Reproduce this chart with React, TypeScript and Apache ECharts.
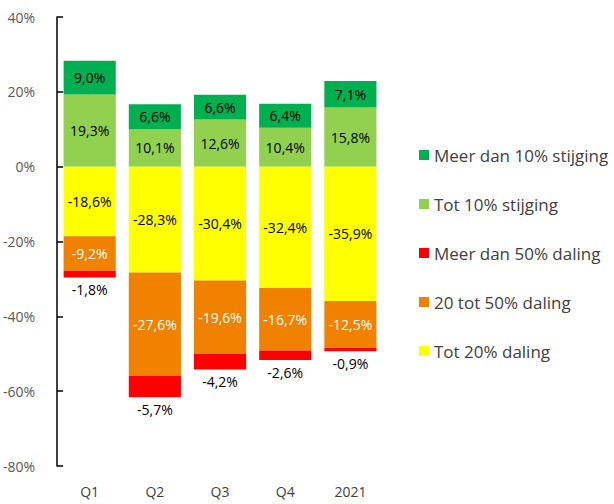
import React, { useEffect, useRef } from "react";
import * as echarts from "echarts";

const categories = ["Q1", "Q2", "Q3", "Q4", "2021"];
const meerDan10Stijging = [9.0, 6.6, 6.6, 6.4, 7.1];
const tot10Stijging = [19.3, 10.1, 12.6, 10.4, 15.8];
const tot20Daling = [-18.6, -28.3, -30.4, -32.4, -35.9];
const tot50Daling = [-9.2, -27.6, -19.6, -16.7, -12.5];
const meerDan50Daling = [-1.8, -5.7, -4.2, -2.6, -0.9];
const legendOrder = [
  "Meer dan 10% stijging",
  "Tot 10% stijging",
  "Meer dan 50% daling",
  "20 tot 50% daling",
  "Tot 20% daling",
];

const FONT = "'Open Sans', 'Noto Sans', sans-serif";
const fmt = (v: number) => v.toFixed(1).replace(".", ",") + "%";

export default function App() {
  const ref = useRef<HTMLDivElement>(null);
  useEffect(() => {
    if (!ref.current) return;
    const chart = echarts.init(ref.current, undefined, { renderer: "svg" });
    const lbl = (color: string, position: any = "inside") => ({
      show: true,
      position,
      color,
      fontSize: 14,
      fontFamily: FONT,
      formatter: (p: any) => fmt(p.value),
    });
    const mk = (name: string, data: number[], color: string, label: any) => ({
      name,
      type: "bar",
      stack: "a",
      data,
      barWidth: "80%",
      itemStyle: { color },
      label,
    });
    chart.setOption({
      animation: false,
      textStyle: { fontFamily: FONT },
      grid: { left: 55, top: 17, bottom: 38, width: 328 },
      legend: {
        orient: "vertical",
        left: 414,
        top: 141,
        itemWidth: 10,
        itemHeight: 10,
        itemGap: 31,
        icon: "rect",
        data: legendOrder,
        textStyle: { fontSize: 17, lineHeight: 18, color: "#404040", fontFamily: FONT },
      },
      xAxis: {
        type: "category",
        data: categories,
        axisLine: { show: false },
        axisTick: { show: false },
        axisLabel: { color: "#404040", fontSize: 14, margin: 18, fontFamily: FONT },
      },
      yAxis: {
        type: "value",
        min: -80,
        max: 40,
        interval: 20,
        splitLine: { show: false },
        axisLine: { show: true, lineStyle: { color: "#000", width: 1.5 } },
        axisTick: { show: true, inside: true, length: 6, lineStyle: { color: "#000", width: 1.5 } },
        axisLabel: {
          color: "#595959",
          fontSize: 14,
          margin: 22,
          fontFamily: FONT,
          formatter: (v: number) => v + "%",
        },
      },
      series: [
        mk("Tot 10% stijging", tot10Stijging, "#92D050", lbl("#000")),
        mk("Meer dan 10% stijging", meerDan10Stijging, "#00B050", lbl("#000")),
        mk("Tot 20% daling", tot20Daling, "#FFFF00", lbl("#000")),
        mk("20 tot 50% daling", tot50Daling, "#F08200", lbl("#fff")),
        mk("Meer dan 50% daling", meerDan50Daling, "#FF0000", lbl("#000", "bottom")),
      ],
    });
    return () => chart.dispose();
  }, []);
  return (
    <div
      ref={ref}
      style={{ position: "absolute", left: 0, top: 0, width: 614, height: 504 }}
    />
  );
}
